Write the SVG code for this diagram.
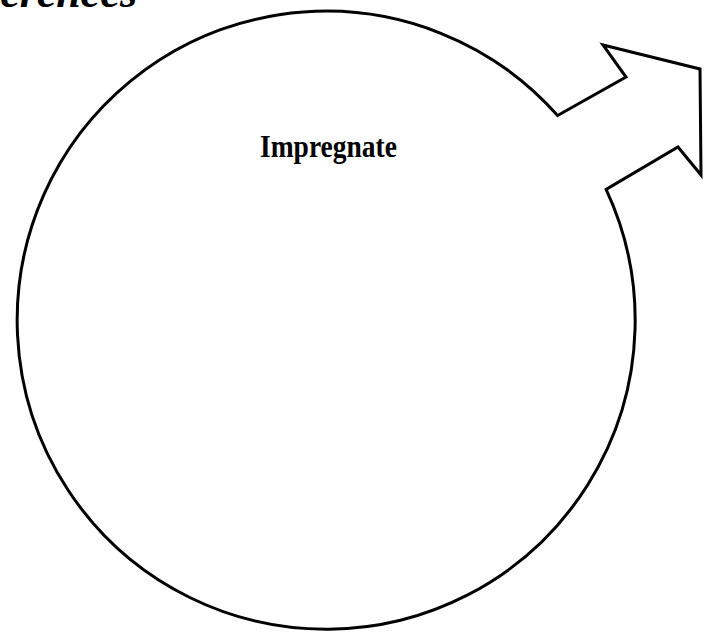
<svg xmlns="http://www.w3.org/2000/svg" width="714" height="634" viewBox="0 0 714 634">
<style>
.outline{fill:none;stroke:#000;stroke-width:3;stroke-linejoin:miter;stroke-linecap:round}
.title{font-family:"Liberation Serif","Times New Roman",serif;font-weight:bold;font-style:italic;font-size:44px;fill:#000}
.label{font-family:"Liberation Serif","Times New Roman",serif;font-weight:bold;font-size:31px;fill:#000}
</style>
<rect width="714" height="634" fill="#fff"/>
<text class="title" x="137" y="7" text-anchor="end">Differences</text>
<g id="male-symbol">
<path class="outline" d="M557.6 115.5 L626 77 L603 45 L700 69 L701 175 L678 147 L606.1 189.4 A309 309 0 1 1 557.6 115.5 Z"/>
</g>
<g id="label">
<text class="label" x="260" y="157" textLength="137" lengthAdjust="spacingAndGlyphs">Impregnate</text>
</g>
</svg>
